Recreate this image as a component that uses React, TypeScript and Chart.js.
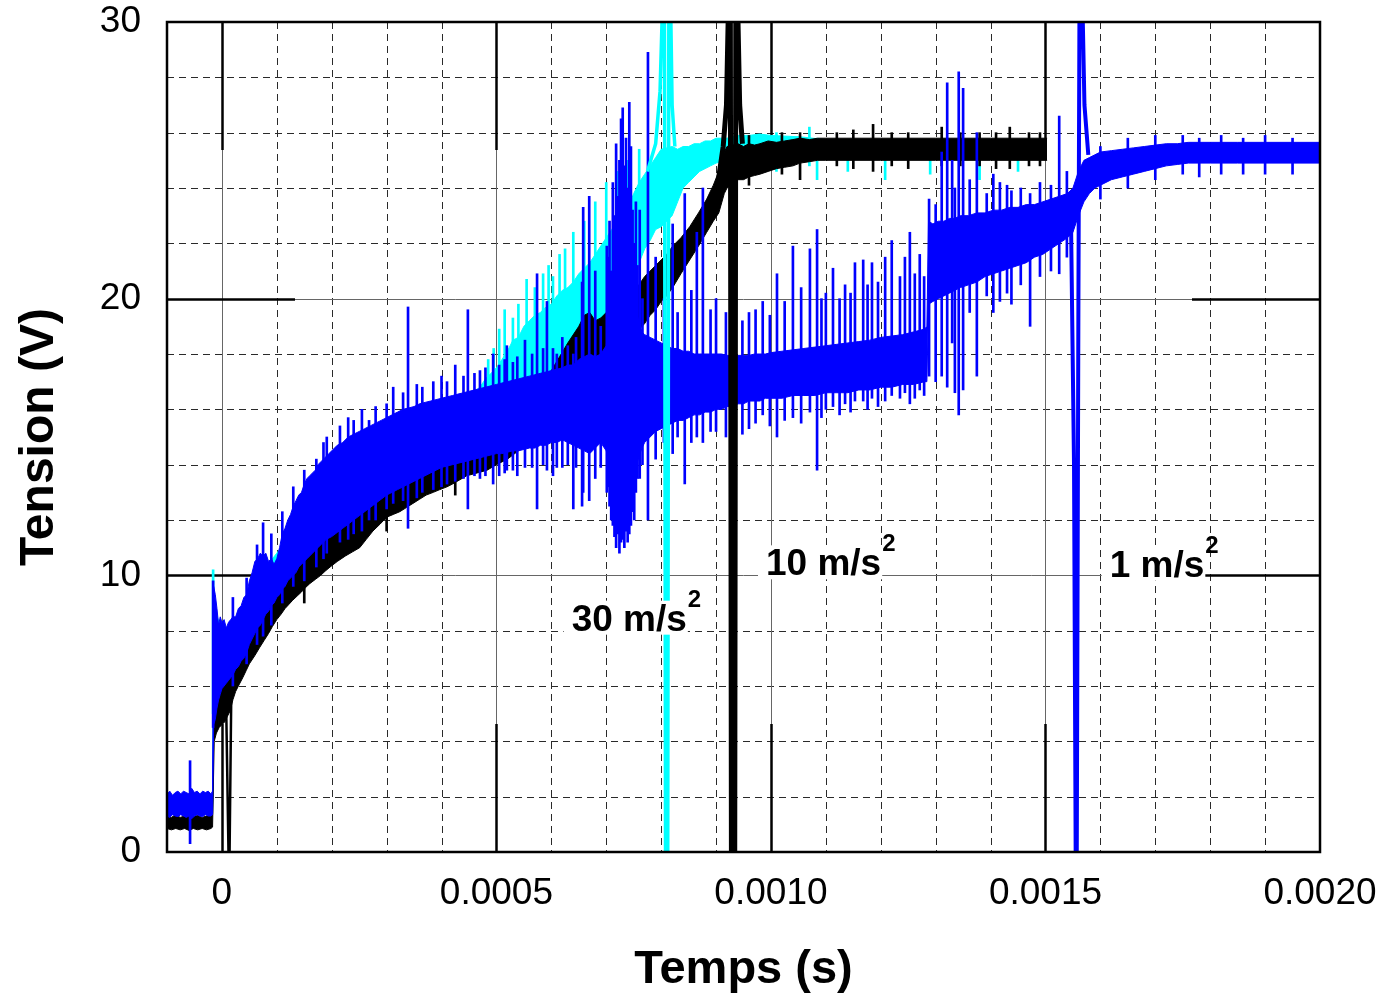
import React, { useEffect, useRef } from "react";
import { Chart, registerables } from "chart.js";

Chart.register(...registerables);

// ---------- axes ----------
const US = 1e-6; // all data times below are written in microseconds
const xRange = [-0.0001, 0.002];
const yRange = [0, 30];
const xTickValues = [0, 0.0005, 0.001, 0.0015, 0.002];
const xTickLabels = ["0", "0.0005", "0.0010", "0.0015", "0.0020"];
const yTickValues = [0, 10, 20, 30];
const yTickLabels = ["0", "10", "20", "30"];
const xMinorStep = 0.0001;
const yMinorStep = 2;
const xMajorStep = 0.0005;
const yMajorStep = 10;
const xTitle = "Temps (s)";
const yTitle = "Tension (V)";

// ---------- curve labels ----------
const curveLabels = ["30 m/s", "10 m/s", "1 m/s"];
const curveLabelSup = ["2", "2", "2"];
const curveLabelTimesUs = [637, 991, 1617];
const curveLabelVolts = [8.0, 10.0, 9.95];

// ---------- 30 m/s² (cyan) : [t µs, lower V, upper V] ----------
const cyanBand = [
  [-100, 1.4, 2.0], [-60, 1.45, 2.05], [-17, 1.4, 2.0], [-15, 5.0, 9.0], [-10, 5.2, 8.6], [-5, 5.4, 8.3],
  [0, 5.6, 8.0], [10, 5.9, 8.0], [20, 6.2, 8.2], [30, 6.6, 8.6], [45, 7.1, 9.2], [60, 7.6, 9.8],
  [80, 8.2, 10.3], [100, 8.8, 10.8], [125, 9.3, 11.5], [150, 9.8, 12.2], [175, 10.2, 12.7], [200, 10.6, 13.2],
  [225, 11.0, 13.6], [250, 11.4, 14.0], [275, 11.8, 14.4], [300, 12.2, 14.8], [325, 12.5, 15.1], [350, 12.8, 15.4],
  [375, 13.1, 15.7], [400, 13.3, 15.9], [425, 13.5, 16.2], [450, 13.7, 16.5], [470, 13.9, 16.8], [480, 14.0, 17.1],
  [490, 14.1, 17.3], [500, 14.3, 17.5], [510, 14.4, 17.8], [520, 14.6, 18.1], [530, 14.8, 18.5], [540, 15.0, 18.6],
  [550, 15.2, 19.0], [560, 15.4, 19.2], [570, 15.6, 19.4], [580, 15.8, 19.5], [590, 16.0, 19.7], [600, 16.2, 19.8],
  [610, 16.4, 20.1], [620, 16.6, 20.3], [630, 16.8, 20.4], [640, 17.0, 20.6], [650, 17.2, 20.9], [660, 17.4, 21.1],
  [670, 17.6, 21.3], [680, 17.8, 21.6], [690, 18.2, 21.9], [700, 18.6, 22.2], [710, 19.0, 22.5], [720, 19.5, 22.8],
  [730, 19.8, 23.0], [740, 20.2, 23.3], [750, 20.8, 23.8], [760, 21.3, 24.2], [770, 21.8, 24.5], [780, 22.1, 24.8],
  [790, 22.5, 25.1], [800, 22.6, 25.4], [820, 23.0, 25.5], [830, 23.5, 25.4], [840, 24.0, 25.5], [850, 24.2, 25.5],
  [860, 24.4, 25.6], [870, 24.6, 25.6], [880, 24.7, 25.7], [890, 24.8, 25.7], [900, 24.9, 25.8], [920, 25.0, 25.8],
  [940, 25.0, 25.9], [960, 25.05, 25.9], [980, 25.0, 25.95], [1000, 25.05, 25.9], [1053, 25.05, 25.85],
  [1100, 25.05, 25.75], [1150, 25.05, 25.75], [1200, 25.05, 25.75], [1250, 25.05, 25.75], [1300, 25.05, 25.75],
  [1350, 25.05, 25.75], [1400, 25.05, 25.75], [1450, 25.05, 25.75], [1490, 25.05, 25.75],
];
const cyanSpikes = [
  [-16, 5.0, 10.2], [485, 15.5, 17.8], [495, 15.0, 18.2], [505, 15.2, 18.9], [515, 15.5, 19.6], [530, 15.5, 19.3],
  [540, 16.0, 19.8], [555, 16.0, 20.7], [570, 16.5, 20.4], [585, 16.8, 20.9], [595, 17.0, 21.2], [603, 16.5, 20.8],
  [615, 17.5, 21.6], [625, 17.0, 21.8], [640, 18.0, 22.4], [660, 18.5, 22.8], [680, 19.0, 23.5], [700, 19.5, 24.2],
  [720, 20.0, 24.6], [740, 21.0, 25.0], [760, 22.0, 25.4],
  [1010, 24.6, 26.0], [1070, 24.8, 26.2], [1084, 24.3, 25.8], [1140, 24.6, 25.6], [1208, 24.3, 25.6],
  [1290, 24.5, 25.6], [1380, 24.3, 25.6], [1450, 24.6, 25.6],
];
const cyanTransient = [
  [775, 24.6], [790, 25.6], [798, 27.5], [803, 31], [806, 31], [808, 0], [812, 0], [814, 31], [817, 31], [820, 27], [825, 25.5],
];

// ---------- 10 m/s² (black) ----------
const blackBand = [
  [-100, 0.85, 1.3], [-92, 0.8, 1.25], [-84, 0.85, 1.35], [-76, 0.8, 1.25], [-68, 0.85, 1.3], [-60, 0.78, 1.3],
  [-52, 0.85, 1.28], [-44, 0.8, 1.32], [-36, 0.85, 1.25], [-28, 0.8, 1.3], [-20, 0.85, 1.3], [-17, 0.9, 1.35],
  [-14, 4.0, 6.0], [-10, 4.3, 6.0], [-5, 4.5, 6.1], [0, 4.6, 6.3], [5, 4.7, 6.2], [10, 4.9, 6.5], [15, 5.1, 6.6],
  [20, 5.5, 7.0], [25, 5.8, 7.3], [30, 6.0, 7.5], [38, 6.3, 7.8], [44, 6.55, 8.0], [50, 6.8, 8.3], [60, 7.1, 8.6],
  [69, 7.4, 8.9], [77, 7.65, 9.1], [85, 7.9, 9.4], [92, 8.15, 9.6], [100, 8.4, 9.9], [108, 8.6, 10.1],
  [115, 8.8, 10.3], [122, 8.95, 10.4], [129, 9.1, 10.6], [137, 9.25, 10.7], [145, 9.4, 10.9], [152, 9.55, 11.0],
  [160, 9.7, 11.2], [170, 9.85, 11.3], [180, 10.0, 11.5], [188, 10.15, 11.6], [197, 10.3, 11.8], [210, 10.5, 12.0],
  [225, 10.7, 12.2], [238, 10.85, 12.4], [251, 11.0, 12.5], [263, 11.3, 12.8], [275, 11.6, 13.0], [288, 11.85, 13.3],
  [300, 12.1, 13.5], [312, 12.2, 13.6], [324, 12.3, 13.7], [336, 12.45, 13.9], [348, 12.6, 14.0], [360, 12.75, 14.2],
  [372, 12.9, 14.3], [385, 13.0, 14.4], [397, 13.1, 14.5], [410, 13.2, 14.6], [420, 13.3, 14.7], [433, 13.45, 14.9],
  [446, 13.6, 15.0], [465, 13.7, 15.1], [483, 13.8, 15.2], [500, 14.0, 15.4], [520, 14.2, 15.7], [540, 14.5, 16.0],
  [560, 14.8, 16.4], [580, 15.2, 16.9], [600, 15.6, 17.4], [615, 15.9, 17.9], [630, 16.3, 18.4], [650, 16.9, 19.0],
  [660, 17.3, 19.4], [670, 17.6, 19.5], [680, 17.5, 19.2], [690, 17.6, 19.3], [705, 17.7, 19.6], [720, 18.1, 20.0],
  [740, 18.4, 20.2], [756, 18.8, 20.4], [770, 19.1, 20.8], [780, 19.4, 21.0], [790, 19.6, 21.2], [800, 19.9, 21.4],
  [810, 20.1, 21.6], [821, 20.4, 21.9], [836, 20.9, 22.2], [852, 21.4, 22.6], [868, 21.9, 23.1], [883, 22.4, 23.6],
  [895, 22.8, 24.1], [905, 23.1, 24.6], [915, 23.8, 25.3], [920, 24.0, 25.5], [940, 24.3, 25.6], [950, 24.3, 25.5],
  [960, 24.4, 25.6], [970, 24.45, 25.55], [980, 24.5, 25.6], [995, 24.6, 25.7], [1010, 24.7, 25.65], [1025, 24.75, 25.7],
  [1040, 24.8, 25.75], [1053, 24.9, 25.8], [1070, 24.95, 25.75], [1085, 25.0, 25.8], [1100, 25.0, 25.8],
  [1150, 25.0, 25.8], [1200, 25.0, 25.8], [1250, 25.0, 25.8], [1300, 25.0, 25.8], [1350, 25.0, 25.8],
  [1400, 25.0, 25.8], [1450, 25.0, 25.8], [1503, 25.0, 25.8],
];
const blackSpikes = [
  [150, 9.0, 11.8], [300, 11.6, 13.9], [425, 12.9, 14.8], [960, 24.1, 25.9], [1020, 24.5, 26.0], [1053, 24.3, 26.0],
  [1120, 24.8, 26.0], [1150, 24.7, 26.1], [1186, 24.6, 26.3], [1220, 24.8, 26.0], [1250, 24.7, 26.0], [1311, 24.8, 26.2],
  [1345, 24.8, 26.0], [1380, 24.8, 26.0], [1410, 24.7, 26.0], [1435, 24.7, 26.2], [1470, 24.8, 26.0], [1490, 24.8, 26.0],
];
const blackEarlyDrop = [[8, 5.0], [12, 0], [14, 0], [17, 5.6]];
const blackTransient = [
  [895, 23.4], [905, 24.4], [913, 25.5], [919, 27], [923, 31], [926, 31], [928, 0], [934, 0], [936, 31], [939, 31], [943, 27], [948, 25.6],
];

// ---------- 1 m/s² (blue) ----------
const blueBand = [
  [-100, 1.3, 2.1], [-95, 1.25, 2.2], [-90, 1.35, 2.05], [-85, 1.3, 2.15], [-80, 1.28, 2.2], [-75, 1.35, 2.1],
  [-70, 1.3, 2.2], [-65, 1.25, 2.15], [-60, 1.3, 2.1], [-55, 1.2, 2.3], [-50, 1.3, 2.15], [-45, 1.35, 2.2],
  [-40, 1.3, 2.1], [-35, 1.28, 2.2], [-30, 1.35, 2.15], [-25, 1.3, 2.2], [-20, 1.3, 2.1], [-17, 1.35, 2.2],
  [-15, 4.6, 9.6], [-12, 4.8, 9.3], [-9, 5.2, 8.8], [-6, 5.5, 8.2], [-3, 5.7, 8.5], [0, 5.9, 8.3], [4, 6.0, 8.4],
  [8, 6.1, 8.1], [12, 6.2, 8.3], [16, 6.3, 8.4], [20, 6.4, 8.5], [25, 6.6, 8.5], [30, 6.7, 8.8], [35, 6.9, 8.9],
  [40, 7.0, 9.2], [45, 7.2, 9.3], [50, 7.5, 9.8], [55, 7.7, 10.1], [60, 7.9, 10.5], [65, 8.1, 10.6], [70, 8.2, 10.8],
  [75, 8.4, 10.7], [80, 8.6, 10.8], [85, 8.7, 10.5], [90, 8.9, 10.6], [95, 9.0, 10.4], [100, 9.2, 10.6],
  [105, 9.3, 11.0], [110, 9.5, 11.5], [115, 9.6, 11.7], [120, 9.8, 12.0], [125, 9.9, 12.2], [130, 10.0, 12.5],
  [135, 10.1, 12.7], [140, 10.3, 12.9], [145, 10.4, 13.0], [150, 10.5, 13.3], [155, 10.6, 13.5], [160, 10.7, 13.6],
  [165, 10.8, 13.7], [170, 10.9, 13.8], [175, 11.0, 14.0], [180, 11.1, 14.1], [185, 11.2, 14.2], [190, 11.3, 14.3],
  [195, 11.35, 14.4], [200, 11.4, 14.5], [210, 11.55, 14.7], [220, 11.7, 14.8], [230, 11.85, 15.0], [240, 12.0, 15.1],
  [250, 12.15, 15.2], [260, 12.3, 15.3], [270, 12.45, 15.4], [280, 12.6, 15.5], [290, 12.75, 15.6], [300, 12.9, 15.7],
  [310, 13.0, 15.8], [320, 13.1, 15.9], [330, 13.2, 16.0], [340, 13.3, 16.05], [350, 13.4, 16.1], [360, 13.5, 16.2],
  [370, 13.6, 16.25], [380, 13.7, 16.3], [390, 13.8, 16.35], [400, 13.9, 16.4], [410, 13.95, 16.45], [420, 14.0, 16.5],
  [430, 14.05, 16.55], [440, 14.1, 16.6], [450, 14.15, 16.65], [460, 14.2, 16.7], [470, 14.25, 16.75], [480, 14.3, 16.8],
  [490, 14.35, 16.85], [500, 14.4, 16.9], [510, 14.4, 16.95], [520, 14.45, 17.0], [530, 14.5, 17.05], [540, 14.5, 17.1],
  [550, 14.55, 17.15], [560, 14.6, 17.2], [570, 14.6, 17.25], [580, 14.7, 17.3], [590, 14.7, 17.35], [600, 14.8, 17.4],
  [610, 14.8, 17.45], [620, 14.9, 17.5], [630, 14.8, 17.6], [640, 14.7, 17.6], [650, 14.6, 17.8], [660, 14.5, 17.9],
  [670, 14.4, 18.0], [680, 14.6, 17.9], [690, 14.8, 18.0], [700, 14.5, 18.3], [705, 14.0, 19.5], [715, 13.2, 21.0],
  [725, 12.6, 22.0], [735, 12.6, 22.0], [745, 13.0, 21.0], [755, 14.0, 19.5], [765, 14.6, 18.8], [770, 14.8, 18.7],
  [780, 15.0, 18.6], [790, 15.2, 18.5], [800, 15.3, 18.4], [810, 15.4, 18.3], [820, 15.5, 18.2], [830, 15.6, 18.2],
  [840, 15.6, 18.1], [850, 15.7, 18.1], [860, 15.8, 18.0], [870, 15.8, 18.0], [880, 15.9, 18.0], [890, 15.9, 18.0],
  [900, 16.0, 18.0], [910, 16.0, 18.0], [920, 16.1, 17.95], [930, 16.1, 17.95], [940, 16.2, 17.95], [950, 16.2, 17.95],
  [960, 16.3, 17.95], [970, 16.3, 18.0], [980, 16.3, 18.0], [990, 16.4, 18.0], [1000, 16.4, 18.05], [1020, 16.4, 18.1],
  [1040, 16.5, 18.15], [1060, 16.5, 18.2], [1080, 16.5, 18.25], [1100, 16.6, 18.3], [1120, 16.6, 18.35], [1140, 16.6, 18.4],
  [1160, 16.7, 18.45], [1180, 16.7, 18.5], [1200, 16.8, 18.6], [1220, 16.8, 18.65], [1240, 16.9, 18.7], [1260, 16.9, 18.8],
  [1280, 17.0, 18.9], [1284, 17.0, 19.0], [1287, 19.8, 22.8], [1295, 19.9, 22.7], [1305, 20.0, 22.8], [1315, 20.1, 22.8],
  [1325, 20.2, 22.9], [1335, 20.3, 22.9], [1345, 20.4, 23.0], [1360, 20.5, 23.0], [1375, 20.6, 23.1], [1390, 20.8, 23.1],
  [1405, 20.9, 23.2], [1420, 21.0, 23.2], [1435, 21.1, 23.3], [1450, 21.2, 23.3], [1465, 21.3, 23.4], [1480, 21.5, 23.4],
  [1495, 21.6, 23.5], [1510, 21.8, 23.6], [1525, 22.0, 23.7], [1540, 22.2, 23.8], [1550, 22.4, 24.0], [1560, 23.0, 24.6],
  [1570, 23.5, 25.0], [1580, 23.8, 25.1], [1590, 24.0, 25.2], [1600, 24.1, 25.3], [1620, 24.3, 25.35], [1640, 24.4, 25.4],
  [1660, 24.5, 25.45], [1680, 24.6, 25.5], [1700, 24.7, 25.55], [1720, 24.8, 25.6], [1740, 24.85, 25.6], [1760, 24.9, 25.65],
  [1800, 24.9, 25.65], [1850, 24.9, 25.65], [1900, 24.9, 25.65], [1950, 24.9, 25.65], [2000, 24.9, 25.65],
];
const blueSpikes = [
  [-58, 0.3, 3.3], [-16, 4.5, 9.8], [20, 6.0, 9.2], [45, 6.8, 9.9], [64, 7.5, 11.1], [75, 7.8, 11.9], [90, 8.2, 11.5],
  [110, 9.0, 12.3], [130, 9.6, 13.2], [150, 9.8, 13.8], [172, 10.3, 14.2], [185, 10.6, 14.8], [191, 10.8, 15.0],
  [215, 11.2, 15.4], [230, 11.3, 15.7], [240, 11.5, 15.6], [255, 11.6, 16.0], [268, 12.0, 15.6], [280, 12.0, 16.1],
  [300, 12.4, 16.2], [312, 12.6, 16.8], [330, 12.7, 16.6], [339, 11.7, 19.7], [355, 12.8, 16.9], [365, 13.0, 16.8],
  [385, 13.1, 17.0], [400, 13.2, 17.2], [410, 13.3, 17.0], [425, 13.4, 17.6], [440, 13.5, 17.2], [448, 12.4, 19.6],
  [460, 13.6, 17.3], [470, 13.5, 17.4], [480, 13.6, 17.5], [494, 13.3, 18.0], [505, 13.6, 17.6], [515, 13.7, 17.8],
  [519, 13.8, 18.3], [530, 13.8, 17.7], [538, 13.6, 17.9], [552, 13.9, 18.5], [565, 13.9, 18.0], [574, 12.4, 20.9],
  [585, 14.0, 18.2], [592, 13.8, 19.9], [603, 13.6, 18.2], [610, 13.9, 18.0], [620, 13.9, 18.6], [630, 14.0, 18.3],
  [640, 12.4, 18.0], [645, 13.9, 18.6], [656, 12.5, 20.6], [658, 13.0, 23.3], [669, 12.7, 23.7], [680, 13.5, 21.0],
  [690, 13.9, 19.0], [701, 13.0, 21.9],
  [703, 13.2, 21.5], [706, 12.5, 22.8], [709, 12.0, 21.0], [712, 11.8, 24.2], [715, 11.4, 23.0], [718, 11.0, 25.6],
  [721, 11.5, 23.7], [724, 10.8, 25.0], [727, 11.2, 26.5], [730, 11.3, 26.9], [733, 11.0, 24.8], [736, 11.6, 25.8],
  [739, 11.2, 24.0], [742, 11.5, 27.1], [745, 11.8, 25.5], [748, 12.3, 23.2], [751, 12.0, 22.0], [754, 13.0, 23.5],
  [757, 13.5, 21.2], [761, 13.5, 23.2], [766, 14.0, 20.0], [776, 12.0, 28.9], [790, 14.2, 21.5], [805, 14.8, 20.0],
  [821, 14.4, 22.7], [830, 15.0, 19.5], [843, 13.3, 23.8], [855, 14.8, 20.3], [865, 15.0, 22.4], [876, 14.8, 24.0],
  [890, 15.2, 19.6], [900, 15.2, 20.0], [918, 15.0, 19.5], [935, 15.6, 19.8], [948, 15.1, 19.2], [960, 15.3, 19.5],
  [972, 15.5, 19.6], [985, 15.8, 19.9], [998, 15.4, 19.4], [1011, 15.0, 20.9], [1025, 15.6, 19.9], [1040, 15.7, 21.9],
  [1055, 15.5, 20.4], [1071, 15.9, 21.8], [1084, 13.8, 22.5], [1092, 15.7, 20.0], [1100, 16.0, 20.2], [1113, 16.1, 21.1],
  [1125, 15.8, 20.0], [1135, 16.2, 20.5], [1145, 15.9, 20.2], [1153, 16.3, 21.3], [1168, 16.3, 21.4], [1176, 16.0, 20.5],
  [1184, 16.4, 21.3], [1195, 16.1, 20.6], [1208, 16.3, 21.5], [1220, 16.5, 22.1], [1235, 16.4, 20.8], [1244, 16.6, 21.5],
  [1253, 16.2, 22.4], [1262, 16.4, 20.9], [1271, 16.7, 21.6], [1279, 16.5, 20.8], [1288, 17.2, 23.6], [1300, 17.0, 23.4],
  [1311, 17.2, 25.3], [1321, 16.8, 27.8], [1330, 18.4, 25.0], [1335, 16.6, 24.0], [1342, 15.8, 28.2], [1350, 16.7, 27.6],
  [1362, 19.5, 24.3], [1375, 17.2, 26.0], [1393, 20.1, 23.8], [1405, 19.5, 24.5], [1417, 19.9, 24.2], [1430, 20.2, 24.1],
  [1438, 19.8, 23.9], [1455, 20.5, 24.0], [1472, 19.0, 23.8], [1490, 20.8, 24.2], [1510, 21.0, 24.1], [1525, 20.9, 26.6],
  [1539, 21.5, 24.6], [1600, 23.6, 25.5], [1650, 24.0, 25.8], [1700, 24.3, 25.9], [1750, 24.5, 25.9], [1780, 24.4, 25.8],
  [1820, 24.5, 25.9], [1860, 24.5, 25.8], [1900, 24.5, 25.9], [1950, 24.5, 25.8],
];
const blueTransient = [
  [1546, 23.6], [1552, 14], [1555, 0], [1557, 0], [1560, 20], [1562, 31], [1567, 31], [1571, 27], [1578, 25.2],
];

// ---------- colours ----------
const CYAN = "#00FFFF";
const BLACK = "#000000";
const BLUE = "#0000FF";
const FONT = "'Liberation Sans', Arial, Helvetica, sans-serif";

function bandDatasets(rows: number[][], color: string, order: number, name: string) {
  return [
    {
      type: "line", label: name + " min", order, fill: false, tension: 0,
      data: rows.map((r) => ({ x: r[0] * US, y: r[1] })),
      borderColor: color, backgroundColor: color, borderWidth: 1, pointRadius: 0,
    },
    {
      type: "line", label: name + " max", order, fill: "-1", tension: 0,
      data: rows.map((r) => ({ x: r[0] * US, y: r[2] })),
      borderColor: color, backgroundColor: color, borderWidth: 1, pointRadius: 0,
    },
  ];
}
function spikeDataset(rows: number[][], color: string, order: number, name: string) {
  return {
    type: "bar", label: name + " spikes", order, grouped: false,
    data: rows.map((r) => ({ x: r[0] * US, y: [r[1], r[2]] })),
    backgroundColor: color, borderWidth: 0, barThickness: 2,
  };
}
function transientDataset(rows: number[][], color: string, width: number, order: number, name: string) {
  return {
    type: "line", label: name, order, fill: false, tension: 0,
    data: rows.map((r) => ({ x: r[0] * US, y: r[1] })),
    borderColor: color, borderWidth: width, pointRadius: 0, borderJoinStyle: "bevel",
  };
}

const isMultiple = (v: number, step: number) => Math.abs(v / step - Math.round(v / step)) < 1e-6;

const paperGrid = {
  id: "paperGrid",
  beforeDatasetsDraw(chart: any) {
    const { ctx, chartArea: a, scales } = chart;
    const xs = scales.x, ys = scales.y;
    ctx.save();
    const nx = Math.round((xRange[1] - xRange[0]) / xMinorStep);
    const ny = Math.round((yRange[1] - yRange[0]) / yMinorStep);
    ctx.lineWidth = 1;
    ctx.strokeStyle = "#2a2a2a";
    ctx.setLineDash([7, 5]);
    for (let i = 1; i < nx; i++) {
      const v = xRange[0] + i * xMinorStep;
      if (isMultiple(v, xMajorStep)) continue;
      const px = Math.round(xs.getPixelForValue(v)) + 0.5;
      ctx.beginPath(); ctx.moveTo(px, a.top); ctx.lineTo(px, a.bottom); ctx.stroke();
    }
    for (let i = 1; i < ny; i++) {
      const v = yRange[0] + i * yMinorStep;
      if (isMultiple(v, yMajorStep)) continue;
      const py = Math.round(ys.getPixelForValue(v)) + 0.5;
      ctx.beginPath(); ctx.moveTo(a.left, py); ctx.lineTo(a.right, py); ctx.stroke();
    }
    ctx.setLineDash([]);
    ctx.strokeStyle = "#666666";
    const xMaj = xTickValues.filter((v) => v > xRange[0] && v < xRange[1]);
    const yMaj = yTickValues.filter((v) => v > yRange[0] && v < yRange[1]);
    for (const v of xMaj) {
      const px = Math.round(xs.getPixelForValue(v)) + 0.5;
      ctx.beginPath(); ctx.moveTo(px, a.top); ctx.lineTo(px, a.bottom); ctx.stroke();
    }
    for (const v of yMaj) {
      const py = Math.round(ys.getPixelForValue(v)) + 0.5;
      ctx.beginPath(); ctx.moveTo(a.left, py); ctx.lineTo(a.right, py); ctx.stroke();
    }
    const L = 128;
    ctx.strokeStyle = "#000";
    ctx.lineWidth = 2.5;
    for (const v of xMaj) {
      const px = Math.round(xs.getPixelForValue(v)) + 0.5;
      ctx.beginPath(); ctx.moveTo(px, a.bottom); ctx.lineTo(px, a.bottom - L); ctx.stroke();
      ctx.beginPath(); ctx.moveTo(px, a.top); ctx.lineTo(px, a.top + L); ctx.stroke();
    }
    for (const v of yMaj) {
      const py = Math.round(ys.getPixelForValue(v)) + 0.5;
      ctx.beginPath(); ctx.moveTo(a.left, py); ctx.lineTo(a.left + L, py); ctx.stroke();
      ctx.beginPath(); ctx.moveTo(a.right, py); ctx.lineTo(a.right - L, py); ctx.stroke();
    }
    ctx.restore();
  },
  afterDatasetsDraw(chart: any) {
    const { ctx, chartArea: a, scales } = chart;
    const xs = scales.x, ys = scales.y;
    ctx.save();
    for (let i = 0; i < curveLabels.length; i++) {
      const px = xs.getPixelForValue(curveLabelTimesUs[i] * US);
      const py = ys.getPixelForValue(curveLabelVolts[i]);
      ctx.font = `bold 37px ${FONT}`;
      const w = ctx.measureText(curveLabels[i]).width;
      ctx.fillStyle = "#fff";
      ctx.fillRect(px - 8, py - 30, w + 9, 34);
      ctx.fillStyle = "#000";
      ctx.textBaseline = "alphabetic";
      ctx.textAlign = "left";
      ctx.fillText(curveLabels[i], px, py);
      ctx.font = `bold 24px ${FONT}`;
      ctx.fillText(curveLabelSup[i], px + w + 1, py - 24);
    }
    ctx.strokeStyle = "#000";
    ctx.lineWidth = 2.5;
    ctx.strokeRect(a.left, a.top, a.right - a.left, a.bottom - a.top);
    ctx.restore();
  },
};

export default function App() {
  const ref = useRef<HTMLCanvasElement | null>(null);
  useEffect(() => {
    if (!ref.current) return;
    const datasets: any[] = [
      ...bandDatasets(cyanBand, CYAN, 9, "30 m/s²"),
      spikeDataset(cyanSpikes, CYAN, 8, "30 m/s²"),
      ...bandDatasets(blackBand, BLACK, 6, "10 m/s²"),
      spikeDataset(blackSpikes, BLACK, 5, "10 m/s²"),
      ...bandDatasets(blueBand, BLUE, 3, "1 m/s²"),
      spikeDataset(blueSpikes, BLUE, 2, "1 m/s²"),
      transientDataset(blackEarlyDrop, BLACK, 2.5, 1, "10 m/s² drop"),
      transientDataset(cyanTransient, CYAN, 3.5, 0, "30 m/s² transient"),
      transientDataset(blackTransient, BLACK, 5, 0, "10 m/s² transient"),
      transientDataset(blueTransient, BLUE, 4, 0, "1 m/s² transient"),
    ];
    const chart = new Chart(ref.current, {
      type: "line",
      data: { datasets },
      options: {
        responsive: false,
        animation: false,
        events: [],
        layout: { padding: { top: 22, right: 64, bottom: 0, left: 0 } },
        plugins: { legend: { display: false }, tooltip: { enabled: false } },
        scales: {
          x: {
            type: "linear",
            min: xRange[0],
            max: xRange[1],
            offset: false,
            grid: { display: false },
            border: { display: false },
            afterBuildTicks: (s: any) => { s.ticks = xTickValues.map((v) => ({ value: v })); },
            afterFit: (s: any) => { s.height = 148; s.paddingLeft = 0; s.paddingRight = 0; },
            ticks: {
              autoSkip: false, maxRotation: 0, minRotation: 0, padding: 12, color: "#000",
              font: { family: FONT, size: 37 },
              callback: (value: any) => {
                const i = xTickValues.findIndex((v) => Math.abs(v - value) < 1e-9);
                return i >= 0 ? xTickLabels[i] : "";
              },
            },
            title: {
              display: true, text: xTitle, color: "#000",
              font: { family: FONT, size: 47, weight: "bold" },
              padding: { top: 0, bottom: 2 },
            },
          },
          y: {
            type: "linear",
            min: yRange[0],
            max: yRange[1],
            grid: { display: false },
            border: { display: false },
            afterBuildTicks: (s: any) => { s.ticks = yTickValues.map((v) => ({ value: v })); },
            afterFit: (s: any) => { s.width = 167; s.paddingTop = 0; s.paddingBottom = 0; },
            ticks: {
              autoSkip: false, padding: 18, color: "#000",
              font: { family: FONT, size: 37 },
              callback: (value: any) => {
                const i = yTickValues.findIndex((v) => Math.abs(v - value) < 1e-9);
                return i >= 0 ? yTickLabels[i] : "";
              },
            },
            title: {
              display: true, text: yTitle, color: "#000",
              font: { family: FONT, size: 48, weight: "bold" },
              padding: { top: 11, bottom: 0 },
            },
          },
        },
      } as any,
      plugins: [paperGrid],
    } as any);
    return () => chart.destroy();
  }, []);
  return (
    <div style={{ position: "absolute", left: 0, top: 0, width: 1384, height: 1000, background: "#fff" }}>
      <canvas ref={ref} width={1384} height={1000} style={{ display: "block" }} />
    </div>
  );
}
